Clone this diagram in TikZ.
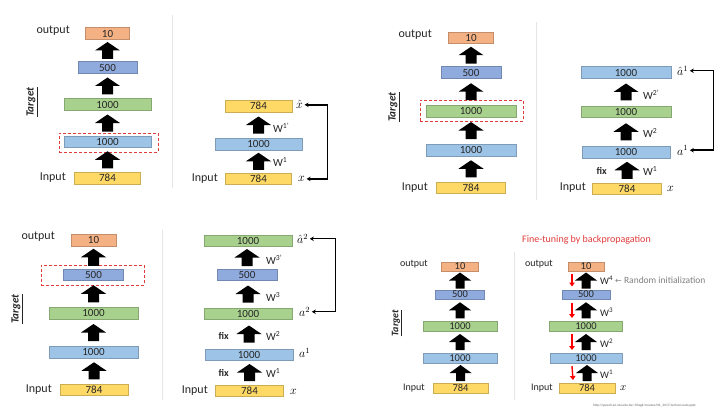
\documentclass[tikz,border=0pt]{standalone}
\usepackage[no-math]{fontspec}
\setmainfont{Carlito}
\newfontfamily\symfont{DejaVu Sans}
\usetikzlibrary{calc,arrows.meta}
\definecolor{cor}{HTML}{F4B183}
\definecolor{cpu}{HTML}{8FAADC}
\definecolor{cgr}{HTML}{A9D18E}
\definecolor{cbl}{HTML}{9DC3E6}
\definecolor{cye}{HTML}{FFD966}
\definecolor{cred}{HTML}{E03C3C}
\definecolor{ctx}{HTML}{262626}
\tikzset{
  bx/.style={draw=#1!80!black, fill=#1, line width=0.5pt, inner sep=0pt,
    minimum height=11.5pt, font=\fontsize{11}{13}\selectfont, text=ctx},
  sbx/.style={bx=#1, minimum height=9.5pt, font=\fontsize{10.5}{12}\selectfont},
  lbl/.style={font=\fontsize{12}{14}\selectfont, inner sep=0pt, text=ctx},
  slbl/.style={font=\fontsize{10}{12}\selectfont, inner sep=0pt, text=ctx},
  wl/.style={font=\fontsize{11}{13}\selectfont, inner sep=0pt, anchor=west, text=ctx},
  swl/.style={font=\fontsize{10}{12}\selectfont, inner sep=0pt, anchor=west, text=ctx},
  fixl/.style={font=\bfseries\fontsize{10}{12}\selectfont, inner sep=0pt, anchor=east, text=ctx},
  mth/.style={font=\fontsize{12}{14}\selectfont, inner sep=0pt, anchor=base west},
  tgt/.style={rotate=90, font=\bfseries\itshape\fontsize{11}{13}\selectfont, inner sep=0pt, text=ctx},
  stgt/.style={tgt, font=\bfseries\itshape\fontsize{10}{12}\selectfont},
  rdash/.style={draw=cred, dash pattern=on 3pt off 2pt, line width=0.9pt, inner sep=0pt},
  fb/.style={line width=1.5pt, {Stealth[length=4pt,width=4.5pt]}-{Stealth[length=4pt,width=4.5pt]}},
  divl/.style={draw=black!10, line width=0.8pt},
  rdarr/.style={draw=red, line width=1.4pt, -{Triangle[length=4pt,width=5.5pt]}}
}
% block arrow: lower node, upper node, half head width, half shaft width, length
\newcommand\blk[5]{%
  \fill[black] let \p1=(#1.north), \p2=(#2.south) in
   (\x1-#4pt,{0.5*\y1+0.5*\y2-0.5*#5pt}) -- (\x1+#4pt,{0.5*\y1+0.5*\y2-0.5*#5pt})
   -- (\x1+#4pt,{0.5*\y1+0.5*\y2}) -- (\x1+#3pt,{0.5*\y1+0.5*\y2})
   -- (\x1,{0.5*\y1+0.5*\y2+0.5*#5pt}) -- (\x1-#3pt,{0.5*\y1+0.5*\y2})
   -- (\x1-#4pt,{0.5*\y1+0.5*\y2}) -- cycle;}
\newcommand\bigblk[2]{\blk{#1}{#2}{12.5}{5.5}{17}}
\newcommand\smblk[2]{\blk{#1}{#2}{11}{4.5}{16}}
\begin{document}
\begin{tikzpicture}[x=1pt,y=-1pt]
\fill[white] (0,0) rectangle (726,412);
\useasboundingbox (0,0) rectangle (726,412);

% ---------------- Panel 1 ----------------
\node[lbl,anchor=east] (out1) at (70,31) {output};
\node[bx=cor,minimum width=44pt] (o1) at (107.5,33.5) {10};
\node[bx=cpu,minimum width=59pt] (p1) at (107.5,67.5) {500};
\node[bx=cgr,minimum width=87pt] (g1) at (107.5,104.5) {1000};
\node[bx=cbl,minimum width=87pt] (b1) at (107.5,141.5) {1000};
\node[bx=cye,minimum width=66pt] (y1) at (107.5,178) {784};
\node[lbl,anchor=east] (in1) at (66,178) {Input};
\node[tgt] (t1) at (32,102) {\underline{Target}};
\node[rdash,minimum width=99pt,minimum height=19pt] (r1) at (108.5,142.5) {};
\bigblk{y1}{b1}\bigblk{b1}{g1}\bigblk{g1}{p1}\bigblk{p1}{o1}
\draw[divl] (172,15) -- (172,188);

% ---------------- Panel 2 ----------------
\node[bx=cye,minimum width=67pt] (yx2) at (258.5,106) {784};
\node[bx=cbl,minimum width=87pt] (b2) at (258.5,144) {1000};
\node[bx=cye,minimum width=66pt] (y2) at (258.5,178.5) {784};
\node[lbl,anchor=east] (in2) at (218,179) {Input};
\node[mth] (xh2) at (296,109) {$\hat{x}$};
\node[mth] (x2) at (298,181.5) {$x$};
\bigblk{y2}{b2}\bigblk{b2}{yx2}
\node[wl] (w2a) at (273,128) {W\textsuperscript{1'}};
\node[wl] (w2b) at (273,162.5) {W\textsuperscript{1}};
\coordinate (c2) at (326,0);
\draw[fb] ([xshift=1.5pt]xh2.east) -- ([xshift=1.5pt]xh2.east -| c2) -- ([xshift=1.5pt]x2.east -| c2) -- ([xshift=1.5pt]x2.east);

% ---------------- Panel 3 ----------------
\node[lbl,anchor=east] (out3) at (432,35) {output};
\node[bx=cor,minimum width=45pt] (o3) at (471,38) {10};
\node[bx=cpu,minimum width=60pt] (p3) at (471,72.5) {500};
\node[bx=cgr,minimum width=90pt] (g3) at (471,111) {1000};
\node[bx=cbl,minimum width=90pt] (b3) at (471,150) {1000};
\node[bx=cye,minimum width=69pt] (y3) at (471,187.5) {784};
\node[lbl,anchor=east] (in3) at (428,188) {Input};
\node[tgt] (t3) at (394,107) {\underline{Target}};
\node[rdash,minimum width=103pt,minimum height=21pt] (r3) at (471.5,110.5) {};
\bigblk{y3}{b3}\bigblk{b3}{g3}\bigblk{g3}{p3}\bigblk{p3}{o3}
\draw[divl] (536,22) -- (536,200);

% ---------------- Panel 4 ----------------
\node[bx=cbl,minimum width=90pt] (ah4) at (626,72.5) {1000};
\node[bx=cgr,minimum width=90pt] (g4) at (626,111.5) {1000};
\node[bx=cbl,minimum width=88pt] (b4) at (626,152) {1000};
\node[bx=cye,minimum width=69pt] (y4) at (627,188.5) {784};
\node[lbl,anchor=east] (in4) at (586,188) {Input};
\node[mth] (ahl4) at (677,75.5) {${\hat{a}}^{1}$};
\node[mth] (al4) at (677,155) {$a^1$};
\node[mth] (x4) at (667,191) {$x$};
\bigblk{y4}{b4}\bigblk{b4}{g4}\bigblk{g4}{ah4}
\node[wl] (w4c) at (643,95) {W\textsuperscript{2'}};
\node[wl] (w4b) at (643,133) {W\textsuperscript{2}};
\node[wl] (w4a) at (643,171) {W\textsuperscript{1}};
\node[fixl] (f4) at (607,171) {fix};
\coordinate (c4) at (712,0);
\draw[fb] ([xshift=1.5pt]ahl4.east) -- ([xshift=1.5pt]ahl4.east -| c4) -- ([xshift=1.5pt]al4.east -| c4) -- ([xshift=1.5pt]al4.east);

% ---------------- Panel 5 ----------------
\node[lbl,anchor=east] (out5) at (55,237) {output};
\node[bx=cor,minimum width=45pt] (o5) at (93.5,240) {10};
\node[bx=cpu,minimum width=60pt] (p5) at (93.5,274.5) {500};
\node[bx=cgr,minimum width=89pt] (g5) at (93.5,313) {1000};
\node[bx=cbl,minimum width=89pt] (b5) at (93.5,352) {1000};
\node[bx=cye,minimum width=68pt] (y5) at (94,389.5) {784};
\node[lbl,anchor=east] (in5) at (52,390) {Input};
\node[tgt] (t5) at (17,309) {\underline{Target}};
\node[rdash,minimum width=103pt,minimum height=20pt] (r5) at (92.5,275) {};
\bigblk{y5}{b5}\bigblk{b5}{g5}\bigblk{g5}{p5}\bigblk{p5}{o5}
\draw[divl] (162,230) -- (162,400);

% ---------------- Panel 6 ----------------
\node[bx=cgr,minimum width=88pt] (ah6) at (248,240.5) {1000};
\node[bx=cpu,minimum width=60pt] (p6) at (247,274.5) {500};
\node[bx=cgr,minimum width=88pt] (g6) at (248,313.5) {1000};
\node[bx=cbl,minimum width=88pt] (b6) at (249,354.5) {1000};
\node[bx=cye,minimum width=68pt] (y6) at (249.5,390.5) {784};
\node[lbl,anchor=east] (in6) at (208,391) {Input};
\node[mth] (ahl6) at (297,243.5) {${\hat{a}}^{2}$};
\node[mth] (al6) at (299,316.5) {$a^2$};
\node[mth] (a16) at (299,357.5) {$a^1$};
\node[mth] (x6) at (290,394) {$x$};
\bigblk{y6}{b6}\bigblk{b6}{g6}\bigblk{g6}{p6}\bigblk{p6}{ah6}
\node[wl] (w6d) at (266,260) {W\textsuperscript{3'}};
\node[wl] (w6c) at (266,297) {W\textsuperscript{3}};
\node[wl] (w6b) at (266,336) {W\textsuperscript{2}};
\node[wl] (w6a) at (266,373) {W\textsuperscript{1}};
\node[fixl] (f6b) at (229,336) {fix};
\node[fixl] (f6a) at (229,373) {fix};
\coordinate (c6) at (334,0);
\draw[fb] ([xshift=1.5pt]ahl6.east) -- ([xshift=1.5pt]ahl6.east -| c6) -- ([xshift=1.5pt]al6.east -| c6) -- ([xshift=1.5pt]al6.east);

% ---------------- Panel 7 ----------------
\node[font=\fontsize{10}{12}\selectfont, text=cred, anchor=west, inner sep=0pt] (ft) at (522,240) {Fine-tuning by backpropagation};
\node[slbl,anchor=east] (out7) at (428,264) {output};
\node[sbx=cor,minimum width=37pt] (o7) at (460,266.5) {10};
\node[sbx=cpu,minimum width=49pt] (p7) at (460,294.5) {500};
\node[sbx=cgr,minimum width=74pt] (g7) at (460,326) {1000};
\node[sbx=cbl,minimum width=74pt] (b7) at (460,358) {1000};
\node[sbx=cye,minimum width=55pt] (y7) at (460.5,388) {784};
\node[slbl,anchor=east] (in7) at (425,388) {Input};
\node[stgt] (t7) at (397,323) {\underline{Target}};
\smblk{y7}{b7}\smblk{b7}{g7}\smblk{g7}{p7}\smblk{p7}{o7}
\draw[divl] (514,252) -- (514,400);

% ---------------- Panel 8 ----------------
\node[slbl,anchor=east] (out8) at (553,264) {output};
\node[sbx=cor,minimum width=36pt] (o8) at (586,266.5) {10};
\node[sbx=cpu,minimum width=48pt] (p8) at (586,294.5) {500};
\node[sbx=cgr,minimum width=73pt] (g8) at (586,326) {1000};
\node[sbx=cbl,minimum width=72pt] (b8) at (586,358) {1000};
\node[sbx=cye,minimum width=56pt] (y8) at (587,388) {784};
\node[slbl,anchor=east] (in8) at (553,388) {Input};
\node[mth,font=\fontsize{11}{13}\selectfont] (x8) at (620,390.5) {$x$};
\smblk{y8}{b8}\smblk{b8}{g8}\smblk{g8}{p8}\smblk{p8}{o8}
\node[swl] (w8d) at (600,280) {W\textsuperscript{4}};
\node[swl] (w8c) at (600,312) {W\textsuperscript{3}};
\node[swl] (w8b) at (600,343) {W\textsuperscript{2}};
\node[swl] (w8a) at (600,374) {W\textsuperscript{1}};
\node[anchor=west, inner sep=0pt, text=black!50, font=\fontsize{9.5}{11}\selectfont] (ri) at (615,280) {{\symfont\fontsize{8}{10}\selectfont ←} Random initialization};
\draw[rdarr] ([xshift=-14pt,yshift=-2pt]o8.south) -- ([xshift=-14pt,yshift=3pt]p8.north);
\draw[rdarr] ([xshift=-14pt,yshift=-3pt]p8.south) -- ([xshift=-14pt,yshift=3pt]g8.north);
\draw[rdarr] ([xshift=-14pt,yshift=-3pt]g8.south) -- ([xshift=-14pt,yshift=3pt]b8.north);
\draw[rdarr] ([xshift=-14pt,yshift=-3pt]b8.south) -- ([xshift=-14pt,yshift=3pt]y8.north);
\node[anchor=west, inner sep=0pt, text=black!60, font=\fontsize{3.4}{4}\selectfont] (url) at (593,406) {http://speech.ee.ntu.edu.tw/\textasciitilde tlkagk/courses/ML\_2017/Lecture/auto.pptx};
\end{tikzpicture}
\end{document}
